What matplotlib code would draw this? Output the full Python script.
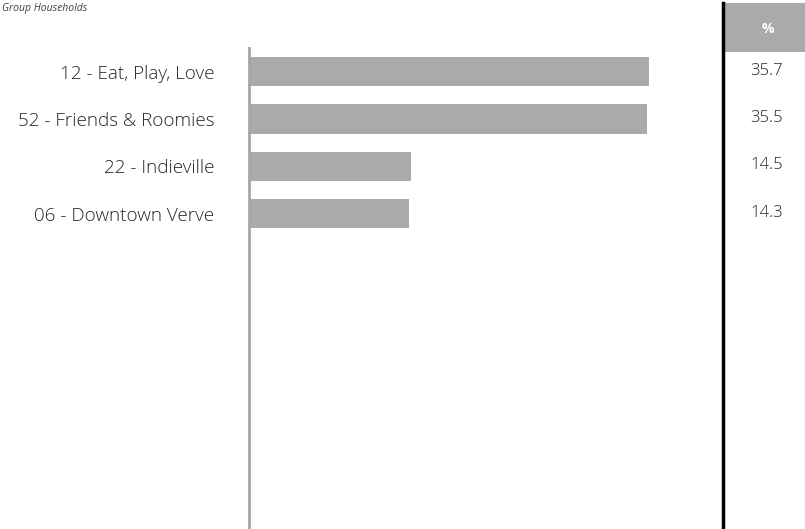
import matplotlib.pyplot as plt
from matplotlib.patches import Rectangle
from matplotlib.lines import Line2D
import matplotlib.transforms as mtransforms

plt.rcParams['font.family'] = ['Open Sans', 'DejaVu Sans']

# data
segments = ["12 - Eat, Play, Love", "52 - Friends & Roomies", "22 - Indieville", "06 - Downtown Verve"]
percent = [35.7, 35.5, 14.5, 14.3]
header = "%"
title = "Group Households"

W, H = 805, 529
fig = plt.figure(figsize=(W / 100, H / 100), dpi=100)

# bar area, placed in pixels
ax_l, ax_r, ax_t, ax_b = 249, 723, 48, 529
ax = fig.add_axes([ax_l / W, 1 - ax_b / H, (ax_r - ax_l) / W, (ax_b - ax_t) / H])
ypos = list(range(len(segments)))
ax.barh(ypos, percent, height=0.62, color="#aaaaaa")
ax.set_xlim(0, (ax_r - ax_l) / 11.2)
ax.set_ylim(9.67, -0.5)
for s in ["top", "right", "bottom"]:
    ax.spines[s].set_visible(False)
ax.spines["left"].set_color("#a6a6a6")
ax.spines["left"].set_linewidth(2)
ax.set_xticks([])
ax.set_yticks(ypos)
ax.set_yticklabels(segments, fontsize=13.6, color="#262626", fontweight="light")
ax.tick_params(axis="y", length=0, pad=25)

fig.text(2 / W, 1 - 8 / H, title, fontsize=7.5, style="italic", color="#404040",
         ha="left", va="center")

# table on the right
fig.add_artist(Rectangle((724 / W, 1 - 52 / H), (W - 724) / W, 49 / H,
                         transform=fig.transFigure, facecolor="#aaaaaa", edgecolor="none"))
fig.add_artist(Line2D([723 / W, 723 / W], [0, 1 - 3 / H], transform=fig.transFigure,
                      color="black", linewidth=2.5))
fig.text(768 / W, 1 - 29 / H, header, fontsize=10, color="white", ha="center", va="center",
         fontweight="bold")
trans = mtransforms.blended_transform_factory(fig.transFigure, ax.transData)
for i, v in enumerate(percent):
    ax.text(750 / W, i - 0.02, f"{v:.1f}", transform=trans, fontsize=12, color="#262626",
            ha="left", va="center", fontweight="light", clip_on=False)

fig.savefig("out.png", dpi=100)
